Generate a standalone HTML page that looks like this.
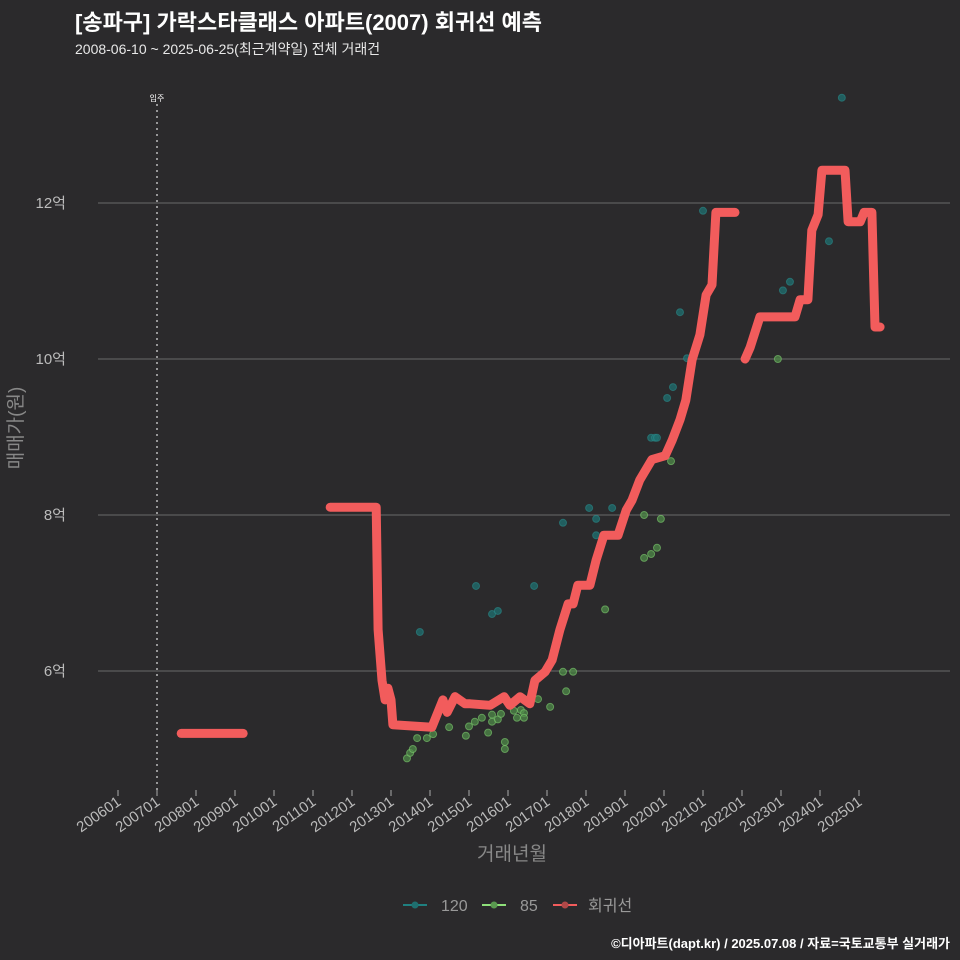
<!DOCTYPE html>
<html><head><meta charset="utf-8"><style>
html,body{margin:0;padding:0;background:#2b2a2c;overflow:hidden;width:960px;height:960px;}
svg{display:block;}
svg text{font-family:"Liberation Sans","Noto Sans CJK KR",sans-serif;}
</style></head><body>
<svg width="960" height="960" xmlns="http://www.w3.org/2000/svg" id="chart">
<rect width="960" height="960" fill="#2b2a2c"/>
<text x="75" y="30" font-size="22" font-weight="bold" fill="#ffffff">[송파구] 가락스타클래스 아파트(2007) 회귀선 예측</text>
<text x="75" y="54" font-size="14" fill="#e8e8e8">2008-06-10 ~ 2025-06-25(최근계약일) 전체 거래건</text>
<g id="grid"></g>
<g id="marks"></g>
<text x="22" y="428" font-size="19" fill="#888" text-anchor="middle" transform="rotate(-90 22 428)">매매가(원)</text>
<text x="512" y="860" font-size="19" fill="#888" text-anchor="middle">거래년월</text>
<g>
<g><line x1="403" y1="905" x2="427" y2="905" stroke="#1f8080" stroke-width="2"/><circle cx="415" cy="905" r="3.5" fill="#1f6f6f"/><text x="441" y="911" font-size="16" fill="#999">120</text></g>
<g><line x1="482" y1="905" x2="506" y2="905" stroke="#8ee07a" stroke-width="2"/><circle cx="494" cy="905" r="3.5" fill="#5a9a50"/><text x="520" y="911" font-size="16" fill="#999">85</text></g>
<g><line x1="553" y1="905" x2="577" y2="905" stroke="#f25c5c" stroke-width="2"/><circle cx="565" cy="905" r="3.5" fill="#b04848"/><text x="588" y="911" font-size="16" fill="#999">회귀선</text></g>
</g>
<text x="950" y="948" font-size="13" font-weight="bold" fill="#ffffff" text-anchor="end">©디아파트(dapt.kr) / 2025.07.08 / 자료=국토교통부 실거래가</text>
</svg>
<script>
const yTicks=[6,8,10,12];
const yTickLabels=["6억","8억","10억","12억"];
const xTickYears=[2006,2007,2008,2009,2010,2011,2012,2013,2014,2015,2016,2017,2018,2019,2020,2021,2022,2023,2024,2025];
const xTickLabels=["200601","200701","200801","200901","201001","201101","201201","201301","201401","201501","201601","201701","201801","201901","202001","202101","202201","202301","202401","202501"];
const moveInYear=2007;
const t120=[2013.74,2015.18,2015.59,2015.74,2016.67,2017.41,2018.08,2018.26,2018.26,2018.67,2019.67,2019.77,2019.82,2020.08,2020.23,2020.41,2020.59,2021.0,2023.05,2023.23,2024.23,2024.56];
const v120=[6.50,7.09,6.73,6.77,7.09,7.90,8.09,7.95,7.74,8.09,8.99,8.99,8.99,9.50,9.64,10.60,10.01,11.90,10.88,10.99,11.51,13.35];
const t85=[2013.41,2013.49,2013.56,2013.67,2013.92,2014.08,2014.49,2014.92,2015.0,2015.15,2015.33,2015.49,2015.59,2015.59,2015.74,2015.82,2015.92,2015.92,2016.15,2016.23,2016.33,2016.41,2016.41,2016.77,2017.08,2017.49,2017.41,2017.67,2018.49,2019.49,2019.67,2019.82,2019.49,2019.92,2020.18,2022.92];
const v85=[4.88,4.95,5.0,5.14,5.14,5.19,5.28,5.17,5.29,5.35,5.40,5.21,5.44,5.35,5.38,5.45,5.09,5.0,5.49,5.40,5.50,5.46,5.40,5.64,5.54,5.74,5.99,5.99,6.79,7.45,7.50,7.58,8.0,7.95,8.69,10.0];
const regSeg1T=[2007.62,2009.21];
const regSeg1V=[5.2,5.2];
const regSeg2T=[2011.44,2012.62,2012.67,2012.77,2012.85,2012.92,2013.0,2013.05,2014.05,2014.33,2014.44,2014.64,2014.9,2015.03,2015.54,2015.9,2016.05,2016.31,2016.56,2016.69,2016.95,2017.13,2017.33,2017.54,2017.67,2017.79,2018.1,2018.26,2018.46,2018.82,2019.03,2019.18,2019.38,2019.69,2020.03,2020.21,2020.41,2020.56,2020.72,2020.92,2021.08,2021.23,2021.33,2021.82];
const regSeg2V=[8.10,8.10,6.53,5.88,5.63,5.78,5.63,5.31,5.28,5.63,5.47,5.67,5.58,5.58,5.56,5.67,5.56,5.67,5.58,5.88,5.99,6.14,6.53,6.86,6.86,7.10,7.10,7.42,7.74,7.74,8.06,8.19,8.45,8.71,8.76,8.96,9.22,9.47,9.99,10.31,10.82,10.95,11.88,11.88];
const regSeg3T=[2022.08,2022.21,2022.46,2023.36,2023.49,2023.69,2023.79,2023.95,2024.05,2024.64,2024.72,2025.03,2025.13,2025.33,2025.41,2025.54];
const regSeg3V=[10.0,10.15,10.54,10.54,10.76,10.76,11.65,11.85,12.42,12.42,11.76,11.76,11.88,11.88,10.41,10.41];

const NS="http://www.w3.org/2000/svg";
const X=t=>118+(t-2006)*39;
const Y=v=>671-(v-6)*78;
const grid=document.getElementById('grid'), marks=document.getElementById('marks');
function mk(tag,attrs,parent){const e=document.createElementNS(NS,tag);for(const k in attrs)e.setAttribute(k,attrs[k]);parent.appendChild(e);return e;}
yTicks.forEach((v,i)=>{
  const l=mk('line',{x1:98,x2:950,y1:Y(v),y2:Y(v),stroke:'#6a6a6a','stroke-width':1},grid);
  
  
  const t=mk('text',{x:66,y:Y(v)+5,'font-size':15,fill:'#bbb','text-anchor':'end'},grid);
  t.textContent=yTickLabels[i];
  
  
});
xTickYears.forEach((yr,i)=>{
  const x=X(yr);
  const l=mk('line',{x1:x,x2:x,y1:790,y2:796,stroke:'#aaa','stroke-width':1},grid);
  
  
  const t=mk('text',{x:x+4,y:804,'font-size':15,fill:'#bbb','text-anchor':'end',transform:`rotate(-35 ${x+4} 804)`},grid);
  t.textContent=xTickLabels[i];
  
  
});
const mv=mk('line',{x1:X(moveInYear),x2:X(moveInYear),y1:104,y2:792,stroke:'#bbb','stroke-width':1.5,'stroke-dasharray':'2 4'},grid);


const mvt=mk('text',{x:X(moveInYear),y:101,'font-size':8,fill:'#fff','text-anchor':'middle'},grid);
mvt.textContent='입주';



t120.forEach((t,i)=>{
  const c=mk('circle',{cx:X(t),cy:Y(v120[i]),r:3.5,fill:'#1f7070','fill-opacity':0.75,stroke:'#2a8a8a','stroke-opacity':0.6},marks);
  
  
});
t85.forEach((t,i)=>{
  const c=mk('circle',{cx:X(t),cy:Y(v85[i]),r:3.5,fill:'#4f8a48','fill-opacity':0.75,stroke:'#7fcf6f','stroke-opacity':0.6},marks);
  
  
});
[[regSeg1T,regSeg1V],[regSeg2T,regSeg2V],[regSeg3T,regSeg3V]].forEach(([ts,vs])=>{
  const d=ts.map((t,i)=>(i?'L':'M')+X(t).toFixed(1)+','+Y(vs[i]).toFixed(1)).join('');
  const p=mk('path',{d:d,fill:'none',stroke:'#f25c5c','stroke-width':9,'stroke-linejoin':'round','stroke-linecap':'round'},marks);
  
  
});
</script>
</body></html>
